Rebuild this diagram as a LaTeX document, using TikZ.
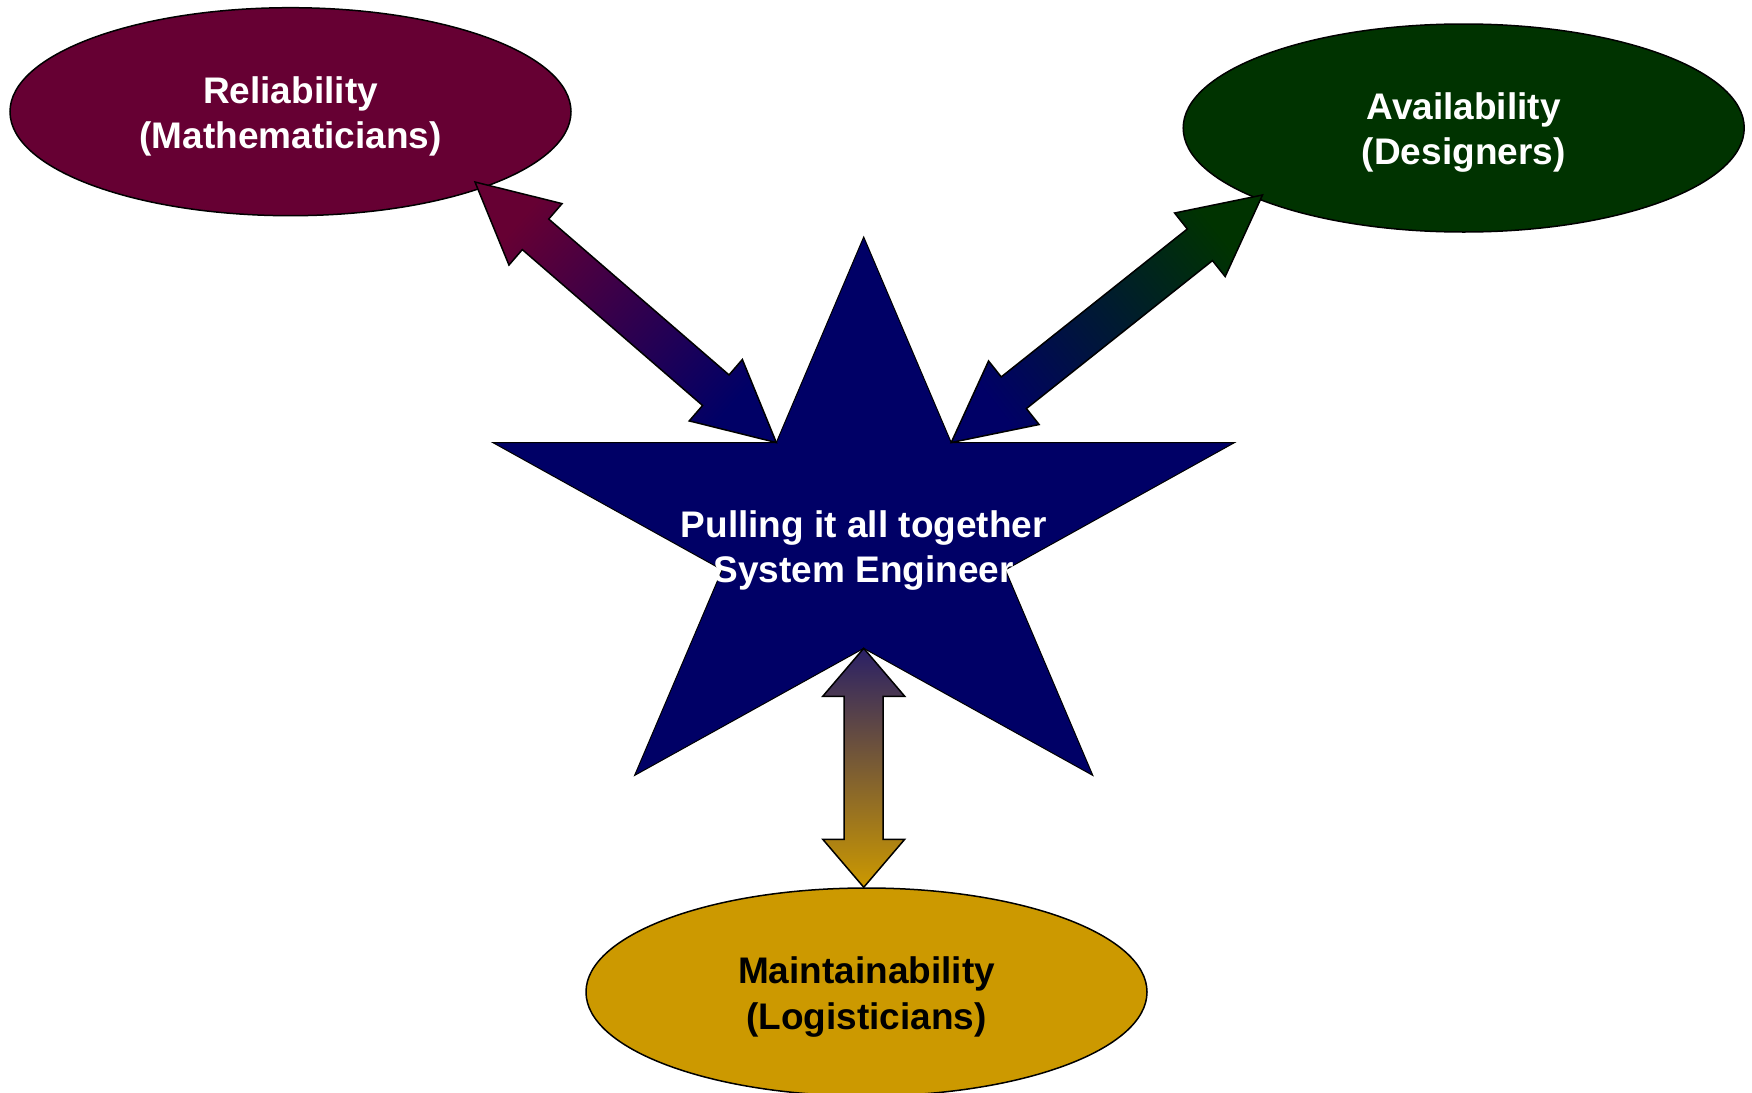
\documentclass[tikz,border=0pt]{standalone}
\usepackage{fontspec}
\setmainfont{Liberation Sans}
\usetikzlibrary{shapes.geometric,calc}
\definecolor{relcol}{HTML}{660033}
\definecolor{avcol}{HTML}{003300}
\definecolor{maintcol}{HTML}{CC9900}
\definecolor{starcol}{HTML}{000066}
\definecolor{arrtop}{HTML}{2A2066}
\tikzset{
	role/.style={ellipse,draw=black,line width=1.5pt,minimum width=561pt,minimum height=208pt,
		inner sep=0pt,align=center,font=\bfseries\fontsize{37}{45}\selectfont},
	fatarrow/.style={draw=black,line width=1.5pt,line join=miter},
}
% lower one text line a little, keeping its size
\newcommand{\dn}[1]{\raisebox{-5pt}[\height][\depth]{#1}}
% double headed block arrow: from, to, head length, head half width, shaft half width, style
\newcommand{\twoway}[6]{%
	\path[fatarrow,#6] (#1)
		--($(#1)!#3!(#2)!#4!90:(#2)$)--($(#1)!#3!(#2)!#5!90:(#2)$)
		--($(#2)!#3!(#1)!#5!-90:(#1)$)--($(#2)!#3!(#1)!#4!-90:(#1)$)
		--(#2)
		--($(#2)!#3!(#1)!#4!90:(#1)$)--($(#2)!#3!(#1)!#5!90:(#1)$)
		--($(#1)!#3!(#2)!#5!-90:(#2)$)--($(#1)!#3!(#2)!#4!-90:(#2)$)
		--cycle;}
\begin{document}
\begin{tikzpicture}[x=1pt,y=-1pt]
	\useasboundingbox (0,0) rectangle (1752,1092);
	% star
	\coordinate(sT)at(863.7,237);
	\coordinate(sL)at(492.7,442.5);
	\coordinate(sR)at(1234.7,442.5);
	\coordinate(sBL)at(634.6,775.4);
	\coordinate(sBR)at(1092.8,775.4);
	\coordinate(sUL)at(intersection of sT--sBL and sL--sR);
	\coordinate(sUR)at(intersection of sT--sBR and sL--sR);
	\coordinate(sLL)at(intersection of sT--sBL and sL--sBR);
	\coordinate(sLR)at(intersection of sT--sBR and sR--sBL);
	\coordinate(sB)at(intersection of sL--sBR and sR--sBL);
	\filldraw[fill=starcol,draw=black,line width=1pt](sT)--(sUR)--(sR)--(sLR)--(sBR)--(sB)
		--(sBL)--(sLL)--(sL)--(sUL)--cycle;
	\node[white,align=center,font=\bfseries\fontsize{37}{45}\selectfont](se)at(863.7,546)
		{\dn{Pulling it all together}\\\dn{System Engineer}};
	% the three disciplines
	\node[role,fill=relcol,text=white](rel)at(290.5,111.7){\dn{Reliability}\\\dn{(Mathematicians)}};
	\node[role,fill=avcol,text=white](avail)at(1463.7,128){\dn{Availability}\\\dn{(Designers)}};
	\node[role,fill=maintcol,text=black](maint)at(866.5,992){\dn{Maintainability}\\\dn{(Logisticians)}};
	\coordinate(relTip)at(475,182);
	\coordinate(avTip)at(1262.5,195);
	\coordinate(mTip)at(sB|-maint.north);
	% arrows
	\twoway{relTip}{sUL}{80pt}{40.6pt}{20.2pt}{top color=relcol,bottom color=starcol,shading angle=49}
	\twoway{avTip}{sUR}{80pt}{40.6pt}{20.2pt}{top color=avcol,bottom color=starcol,shading angle=-52}
	\twoway{sB}{mTip}{48pt}{41pt}{19.5pt}{top color=arrtop,bottom color=maintcol}
\end{tikzpicture}
\end{document}
